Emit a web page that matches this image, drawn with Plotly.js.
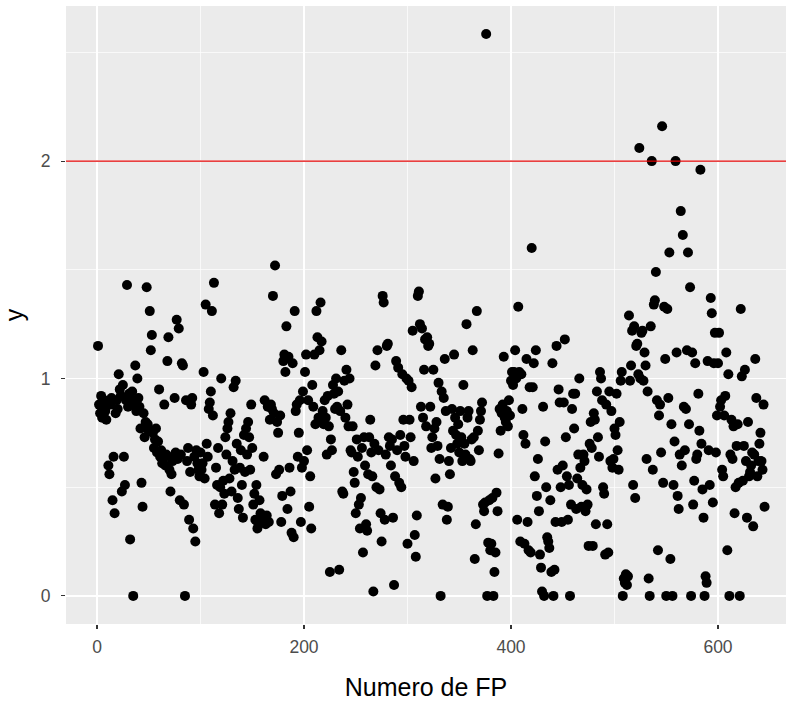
<!DOCTYPE html>
<html>
<head>
<meta charset="utf-8">
<script src="https://cdn.plot.ly/plotly-3.0.1.min.js"></script>
<style>html,body{margin:0;padding:0;background:#fff;}#chart{width:786px;height:702px;}</style>
</head>
<body>
<div id="chart"></div>
<script>
// y values, FP number 1..100
const yPart1 = [
  1.15, 0.88, 0.84, 0.92, 0.82, 0.86, 0.90, 0.85, 0.81, 0.89,
  0.60, 0.56, 0.88, 0.91, 0.44, 0.64, 0.38, 0.84, 0.90, 0.86,
  1.02, 0.95, 0.92, 0.48, 0.97, 0.64, 0.51, 0.90, 1.43, 0.87,
  0.93, 0.26, 0.88, 0.94, 0.00, 0.90, 1.06, 0.85, 1.00, 0.91,
  0.87, 0.77, 0.52, 0.41, 0.84, 0.73, 0.80, 1.42, 0.79, 0.76,
  1.31, 1.13, 1.20, 0.75, 0.68, 0.72, 0.77, 0.66, 0.71, 0.95,
  0.64, 0.67, 0.61, 0.63, 0.88, 0.60, 0.65, 1.08, 1.19, 0.58,
  0.48, 0.56, 0.62, 0.64, 0.91, 0.66, 1.27, 0.63, 1.23, 0.44,
  0.65, 1.07, 1.06, 0.42, 0.00, 0.90, 0.62, 0.68, 0.35, 0.57,
  0.88, 0.91, 0.31, 0.64, 0.25, 0.67, 0.61, 0.58, 0.55, 0.66
];
// FP number 101..200
const yPart2 = [
  0.58, 0.61, 1.03, 0.54, 1.34, 0.70, 0.64, 0.86, 0.89, 0.94,
  1.31, 0.83, 1.44, 0.42, 0.59, 0.51, 0.68, 0.38, 0.50, 1.00,
  0.42, 0.53, 0.47, 0.73, 0.65, 0.77, 0.80, 0.54, 0.84, 0.48,
  0.62, 0.96, 0.58, 0.99, 0.70, 0.45, 0.40, 0.59, 0.67, 0.51,
  0.36, 0.74, 0.57, 0.77, 0.65, 0.80, 0.73, 0.58, 0.88, 0.68,
  0.42, 0.47, 0.35, 0.51, 0.31, 0.33, 0.44, 0.38, 0.34, 0.35,
  0.64, 0.90, 0.33, 0.37, 0.87, 0.34, 0.81, 0.88, 0.86, 1.38,
  0.84, 1.52, 0.56, 0.80, 0.75, 0.58, 0.83, 0.34, 0.46, 1.08,
  1.11, 1.03, 1.24, 0.40, 1.10, 0.59, 0.48, 0.29, 1.07, 0.27,
  1.31, 0.85, 0.88, 0.64, 0.75, 0.90, 0.34, 0.59, 0.94, 0.62
];
// FP number 201..300
const yPart3 = [
  1.03, 1.11, 0.67, 0.90, 0.41, 0.55, 0.31, 0.97, 0.87, 1.11,
  0.79, 1.31, 1.19, 0.82, 1.13, 1.35, 1.17, 0.85, 0.79, 0.90,
  0.82, 0.65, 0.92, 0.78, 0.11, 0.72, 0.67, 0.97, 0.93, 0.86,
  1.00, 0.87, 0.94, 0.12, 0.85, 1.13, 0.48, 0.47, 0.99, 0.82,
  1.04, 0.88, 0.78, 1.00, 0.67, 0.66, 0.78, 0.57, 0.52, 0.38,
  0.72, 0.64, 0.42, 0.31, 0.45, 0.68, 0.20, 0.73, 0.60, 0.33,
  0.30, 0.56, 0.73, 0.81, 0.66, 0.55, 0.02, 0.70, 1.06, 0.50,
  1.13, 0.67, 0.49, 0.38, 0.25, 1.38, 1.35, 0.35, 0.65, 1.15,
  1.16, 0.73, 0.69, 0.60, 0.72, 0.36, 0.05, 0.55, 1.08, 0.67,
  1.05, 0.52, 0.74, 0.50, 1.02, 0.81, 0.69, 0.64, 1.00, 0.24
];
// FP number 301..400
const yPart4 = [
  0.99, 0.81, 0.73, 0.96, 1.22, 0.62, 0.28, 0.18, 0.37, 1.38,
  1.40, 1.25, 0.87, 1.23, 0.82, 1.04, 1.18, 0.78, 1.19, 1.15,
  1.16, 0.87, 0.68, 0.73, 1.04, 0.77, 0.54, 0.80, 0.69, 0.98,
  0.63, 0.00, 0.94, 0.42, 0.91, 1.09, 0.85, 0.35, 0.41, 0.62,
  0.56, 0.68, 0.86, 0.76, 1.11, 0.82, 0.74, 0.70, 0.79, 0.66,
  0.85, 0.73, 0.62, 0.97, 0.70, 0.65, 1.25, 0.82, 0.85, 0.63,
  0.62, 0.72, 1.13, 0.73, 0.17, 0.33, 1.31, 0.76, 0.67, 0.81,
  0.85, 0.89, 0.42, 0.39, 0.43, 2.585, 0.00, 0.245, 0.44, 0.21,
  0.24, 0.45, 0.00, 0.11, 0.20, 0.475, 0.39, 0.655, 0.86, 0.76,
  0.84, 0.88, 1.10, 0.82, 0.80, 0.85, 0.78, 0.90, 0.83, 0.99
];
// FP number 401..500
const yPart5 = [
  1.03, 0.97, 1.03, 1.13, 1.00, 0.35, 1.33, 1.03, 0.25, 1.02,
  0.86, 0.74, 0.24, 0.70, 1.09, 0.34, 0.21, 0.96, 0.20, 1.60,
  0.96, 1.07, 0.55, 1.13, 0.46, 0.63, 0.39, 0.19, 0.13, 0.02,
  0.87, 0.00, 0.71, 0.50, 0.27, 0.25, 0.22, 0.44, 0.11, 1.07,
  0.00, 0.12, 0.34, 1.15, 0.58, 0.95, 0.89, 0.50, 0.34, 0.60,
  0.89, 1.18, 0.73, 0.55, 0.35, 0.51, 0.00, 0.42, 0.86, 0.93,
  0.77, 0.93, 0.40, 0.54, 0.65, 1.00, 0.59, 0.41, 0.51, 0.65,
  0.62, 0.39, 0.49, 0.42, 0.23, 0.70, 0.80, 0.68, 0.23, 0.84,
  0.81, 0.33, 0.94, 0.73, 0.64, 1.03, 1.00, 0.90, 0.50, 0.47,
  0.19, 0.88, 0.33, 0.20, 0.94, 0.62, 0.85, 0.59, 0.63, 0.77
];
// FP number 501..600
const yPart6 = [
  0.74, 0.93, 0.67, 0.58, 0.80, 0.99, 1.03, 0.00, 0.08, 0.06,
  0.10, 0.05, 0.09, 1.29, 0.99, 1.06, 1.22, 0.51, 1.24, 0.45,
  1.15, 1.16, 1.02, 2.06, 1.00, 1.21, 1.22, 0.99, 1.12, 1.06,
  0.63, 0.94, 0.08, 0.00, 1.24, 2.00, 0.58, 1.34, 1.36, 1.49,
  0.90, 0.21, 0.83, 0.88, 0.66, 2.16, 0.52, 1.33, 1.09, 0.00,
  1.32, 0.91, 1.58, 0.17, 0.79, 0.00, 0.51, 0.71, 2.00, 1.12,
  0.46, 0.40, 0.65, 1.77, 0.60, 1.66, 0.87, 0.67, 0.86, 1.13,
  1.58, 0.79, 1.42, 0.00, 1.12, 0.42, 0.53, 1.07, 0.63, 0.65,
  0.93, 0.76, 1.96, 0.70, 0.49, 0.36, 0.00, 0.09, 0.06, 1.08,
  0.67, 0.51, 1.37, 1.30, 0.43, 1.07, 1.21, 0.66, 0.83, 1.07
];
// FP number 601..645
const yPart7 = [
  1.21, 0.87, 0.90, 0.58, 0.55, 0.83, 0.92, 1.12, 0.21, 1.02,
  0.00, 0.65, 0.81, 0.63, 0.78, 0.38, 0.50, 0.69, 0.79, 0.52,
  0.00, 1.32, 1.01, 0.53, 0.69, 1.04, 0.62, 0.36, 0.80, 0.55,
  0.57, 0.60, 0.66, 0.32, 0.65, 1.09, 0.91, 0.55, 0.62, 0.70,
  0.75, 0.62, 0.58, 0.88, 0.41
];
const xTickVals = [0, 200, 400, 600];
const xTickText = ["0", "200", "400", "600"];
const yTickVals = [0, 1, 2];
const yTickText = ["0", "1", "2"];
const thresholdY = [2];
const xTitle = "Numero de FP";
const yTitle = "y";

const yValues = [].concat(yPart1, yPart2, yPart3, yPart4, yPart5, yPart6, yPart7);
const fpNumbers = yValues.map((_, i) => i + 1);

const trace = {
  type: "scatter",
  mode: "markers",
  x: fpNumbers,
  y: yValues,
  marker: {color: "#000000", size: 10, line: {width: 0}},
  hoverinfo: "x+y",
  showlegend: false
};

const layout = {
  width: 786,
  height: 702,
  margin: {l: 66, r: 0, t: 6, b: 78, pad: 0},
  paper_bgcolor: "#FFFFFF",
  plot_bgcolor: "#EBEBEB",
  font: {family: "Liberation Sans, Arial, sans-serif", color: "#4D4D4D"},
  showlegend: false,
  xaxis: {
    range: [-29.95, 665.7],
    tickvals: xTickVals,
    ticktext: xTickText,
    ticks: "outside",
    ticklen: 4,
    tickwidth: 1.1,
    tickcolor: "#333333",
    ticklabelstandoff: 3,
    tickfont: {size: 17.5, color: "#4D4D4D"},
    showgrid: true,
    gridcolor: "#FFFFFF",
    gridwidth: 1.4,
    minor: {tick0: 0, dtick: 100, showgrid: true, gridcolor: "#FFFFFF", gridwidth: 0.7, ticks: ""},
    zeroline: false,
    showline: false,
    automargin: false,
    title: {text: xTitle, font: {size: 25, color: "#000000"}, standoff: 22}
  },
  yaxis: {
    range: [-0.1292, 2.7135],
    tickvals: yTickVals,
    ticktext: yTickText,
    ticks: "outside",
    ticklen: 4,
    tickwidth: 1.1,
    tickcolor: "#333333",
    ticklabelstandoff: 7,
    tickfont: {size: 17.5, color: "#4D4D4D"},
    showgrid: true,
    gridcolor: "#FFFFFF",
    gridwidth: 1.4,
    minor: {tick0: 0, dtick: 0.5, showgrid: true, gridcolor: "#FFFFFF", gridwidth: 0.7, ticks: ""},
    zeroline: false,
    showline: false,
    automargin: false,
    title: {text: yTitle, font: {size: 25, color: "#000000"}, standoff: 16}
  },
  shapes: thresholdY.map(v => ({
    type: "line", xref: "paper", x0: 0, x1: 1, yref: "y", y0: v, y1: v,
    line: {color: "#E00000", width: 1.3}
  }))
};

Plotly.newPlot("chart", [trace], layout, {staticPlot: true, displayModeBar: false});
</script>
</body>
</html>
